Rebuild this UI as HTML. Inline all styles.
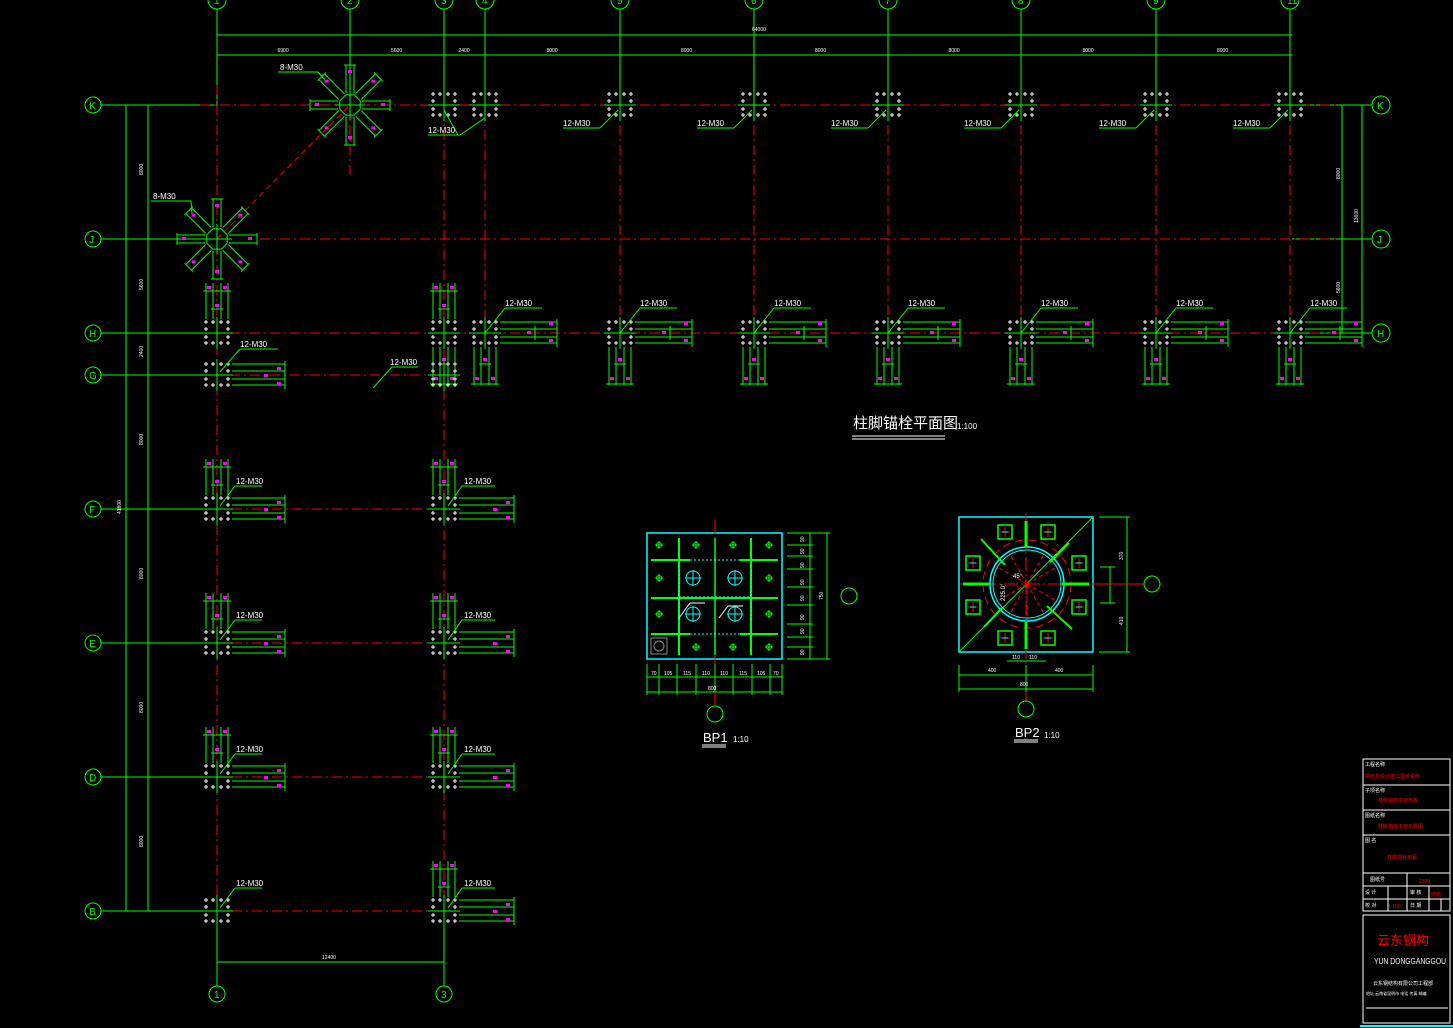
<!DOCTYPE html>
<html><head><meta charset="utf-8">
<style>
html,body{margin:0;padding:0;background:#000;}
svg{display:block}
text{font-family:"Liberation Sans","Noto Sans CJK SC",sans-serif;}
</style></head>
<body>
<svg id="s" width="1453" height="1028" viewBox="0 0 1453 1028" xmlns="http://www.w3.org/2000/svg">
<rect width="1453" height="1028" fill="#000"/>
<g id="g"></g>
<text x="853" y="428" fill="#fff" font-size="15" font-family="Noto Sans CJK SC, sans-serif">柱脚锚栓平面图</text>
<line x1="852" y1="436" x2="945" y2="436" stroke="#fff" stroke-width="1"/>
<line x1="852" y1="439" x2="945" y2="439" stroke="#fff" stroke-width="1"/>
<text x="957" y="429" fill="#fff" font-size="8">1:100</text>
<text x="703" y="742" fill="#fff" font-size="13">BP1</text>
<line x1="702" y1="745" x2="726" y2="745" stroke="#fff"/><line x1="702" y1="747" x2="726" y2="747" stroke="#fff"/>
<text x="733" y="742" fill="#fff" font-size="8">1:10</text>
<text x="1015" y="737" fill="#fff" font-size="13">BP2</text>
<line x1="1014" y1="740" x2="1038" y2="740" stroke="#fff"/><line x1="1014" y1="742" x2="1038" y2="742" stroke="#fff"/>
<text x="1044" y="738" fill="#fff" font-size="8">1:10</text>
<g stroke="#fff" fill="none" stroke-width="1">
<rect x="1363" y="759" width="87" height="152"/>
<line x1="1363" y1="785" x2="1450" y2="785"/>
<line x1="1363" y1="810" x2="1450" y2="810"/>
<line x1="1363" y1="835" x2="1450" y2="835"/>
<line x1="1363" y1="873" x2="1450" y2="873"/>
<line x1="1363" y1="886" x2="1450" y2="886"/>
<line x1="1363" y1="899" x2="1450" y2="899"/>
<line x1="1407" y1="873" x2="1407" y2="911"/>
<line x1="1388" y1="886" x2="1388" y2="911"/>
<line x1="1429" y1="886" x2="1429" y2="911"/>
<line x1="1441" y1="899" x2="1441" y2="911"/>
<rect x="1363" y="915" width="87" height="108"/>
<line x1="1366" y1="1008" x2="1448" y2="1008"/>
</g>
<g font-size="5" fill="#f00">
<text x="1365" y="778">钢结构设计施工图纸说明</text>
<text x="1378" y="802">柱脚锚栓平面布置</text>
<text x="1378" y="828">柱脚锚栓平面布置图</text>
<text x="1387" y="859">柱脚锚栓布置</text>
<text x="1419" y="883">2300</text>
<text x="1431" y="896">结施</text>
<text x="1388" y="908">1:100</text>
</g>
<g font-size="5" fill="#fff"><text x="1365" y="766">工程名称</text><text x="1365" y="792">子项名称</text><text x="1365" y="817">图纸名称</text><text x="1365" y="842">图 名</text><text x="1370" y="881">图纸号</text><text x="1365" y="894">设 计</text><text x="1410" y="894">审 核</text><text x="1365" y="907">校 对</text><text x="1410" y="907">日 期</text></g>
<text x="1377" y="945" fill="#f00" font-size="13" font-family="Noto Sans CJK SC, sans-serif">云东钢构</text>
<text x="1374" y="964" fill="#fff" font-size="8" textLength="72" lengthAdjust="spacingAndGlyphs">YUN DONGGANGGOU</text>
<text x="1373" y="985" fill="#fff" font-size="5">云东钢结构有限公司工程部</text>
<text x="1366" y="995" fill="#fff" font-size="4">地址 云南省昆明市 电话 传真 邮编</text>
<line x1="1360" y1="1026" x2="1453" y2="1026" stroke="#0ff" stroke-width="2"/>
</svg>
<script>
var G=document.getElementById('g'),h='';
var GR='#00ff00',RD='#ff0000',WH='#fff',MG='#ff00ff',CY='#00ffff';
function L(a,b,c,d,col,dash,w){h+='<line x1="'+a+'" y1="'+b+'" x2="'+c+'" y2="'+d+'" stroke="'+col+'" stroke-width="'+(w||1)+'"'+(dash?' stroke-dasharray="'+dash+'"':'')+'/>';}
function C(x,y,r,col,w){h+='<circle cx="'+x+'" cy="'+y+'" r="'+r+'" fill="none" stroke="'+col+'" stroke-width="'+(w||1)+'"/>';}
function T(x,y,t,col,fs,extra){h+='<text x="'+x+'" y="'+y+'" fill="'+col+'" font-size="'+fs+'" '+(extra||'')+'>'+t+'</text>';}
function R(x,y,w,hh,col,sw){h+='<rect x="'+x+'" y="'+y+'" width="'+w+'" height="'+hh+'" fill="none" stroke="'+col+'" stroke-width="'+(sw||1)+'"/>';}
function M(x,y){h+='<rect x="'+(x+1)+'" y="'+(y+1)+'" width="4" height="3" fill="'+MG+'"/>';}
var DD='10,4,2,4';
var cols={1:217,2:350,3:444,4:485,5:620,6:754,7:888,8:1021,9:1156,11:1290};
var rows={K:105,J:239,H:333,G:375,F:509,E:643,D:777,B:911};
for(var k in cols){var x=cols[k];C(x,0,9,GR);T(x-3,4,k,GR,10);L(x,9,x,105,GR);}
for(var r in rows){var y=rows[r];C(93,y,8,GR);T(89,y+4,r,GR,10);L(101,y,217,y,GR);}
['K','J','H'].forEach(function(r){var y=rows[r];C(1381,y,9,GR);T(1377,y+4,r,GR,10);L(1292,y,1372,y,GR);});
[1,3].forEach(function(k){var x=cols[k];C(x,994,8,GR);T(x-3,998,k,GR,10);L(x,911,x,986,GR);});
L(217,35,1292,35,GR);L(217,55,1292,55,GR);
T(752,31,'64000',WH,5);
var dl=[[217,350,'6900'],[350,444,'5600'],[444,485,'2400'],[485,620,'8000'],[620,754,'8000'],[754,888,'8000'],[888,1021,'8000'],[1021,1156,'8000'],[1156,1290,'8000']];
dl.forEach(function(d){T((d[0]+d[1])/2-6,52,d[2],WH,5);});
L(126,105,126,911,GR);L(148,105,148,911,GR);
for(var r in rows){L(122,rows[r],152,rows[r],GR);}
T(117,510,'41800',WH,5,'transform="rotate(-90 121 510)"');
[[172,'8000'],[287,'5600'],[354,'2400'],[442,'8000'],[576,'8000'],[710,'8000'],[844,'8000']].forEach(function(d){T(140,d[0],d[1],WH,5,'transform="rotate(-90 143 '+d[0]+')"');});
L(1342,105,1342,333,GR);L(1362,105,1362,333,GR);
[105,239,333].forEach(function(y){L(1338,y,1366,y,GR);});
T(1355,220,'13600',WH,5,'transform="rotate(-90 1358 220)"');
T(1337,176,'8000',WH,5,'transform="rotate(-90 1340 176)"');T(1337,290,'5600',WH,5,'transform="rotate(-90 1340 290)"');
L(217,962,444,962,GR);T(322,959,'12400',WH,5);
L(200,105,1340,105,RD,DD);L(260,239,1340,239,RD,DD);L(230,333,1340,333,RD,DD);
L(230,375,444,375,RD,DD);
['F','E','D','B'].forEach(function(r){L(232,rows[r],430,rows[r],RD,DD);});
[5,6,7,8,9,11].forEach(function(k){L(cols[k],105,cols[k],333,RD,DD);});
L(217,85,217,911,RD,DD);L(444,110,444,911,RD,DD);L(485,110,485,333,RD,DD);L(350,105,350,175,RD,DD);
L(217,239,350,105,RD,'6,4');
function plus(x,y){L(x-2,y,x+2,y,WH);L(x,y-2,x,y+2,WH);}
var off=[-11,-4,4,11],offy=[-11,-4,4,10];
function grid(cx,cy){off.forEach(function(a){offy.forEach(function(b){if(Math.abs(a)<5&&Math.abs(b)<5)return;plus(cx+a,cy+b);});});L(cx-16,cy,cx+16,cy,GR);L(cx,cy-16,cx,cy+16,GR);}
[4,5,6,7,8,9,11].forEach(function(k){grid(cols[k],105);});
grid(444,105);
L(485,118,460,135,GR);L(444,110,458,135,GR);L(428,135,460,135,GR);T(428,133,'12-M30',WH,8);
[5,6,7,8,9,11].forEach(function(k){var cx=cols[k];L(cx-2,110,cx-20,128,GR);L(cx-57,128,cx-20,128,GR);T(cx-57,126,'12-M30',WH,8);});
function hgroup(cx,cy,ext,down,lbl){grid(cx,cy);
 if(ext){offy.forEach(function(b){L(cx+15,cy+b,cx+72,cy+b,GR);});L(cx+72,cy-14,cx+72,cy+14,GR);L(cx+50,cy-7,cx+50,cy+7,GR);
  M(cx+63,cy-12);M(cx+41,cy-3);M(cx+63,cy+5);}
 if(down){off.forEach(function(a){L(cx+a,cy+14,cx+a,cy+52,GR);});L(cx-14,cy+51,cx+14,cy+51,GR);L(cx-6,cy+31,cx+6,cy+31,GR);
  M(cx-3,cy+24);M(cx-11,cy+43);M(cx+5,cy+43);}
 if(lbl){L(cx,cy,cx+20,cy-25,GR);L(cx+20,cy-25,cx+57,cy-25,GR);T(cx+20,cy-27,'12-M30',WH,8);}}
[4,5,6,7,8,9,11].forEach(function(k){hgroup(cols[k],333,true,true,true);});
hgroup(444,333,false,true,false);grid(444,375);
function upgroup(cx,cy){off.forEach(function(a){L(cx+a,cy-14,cx+a,cy-50,GR);});L(cx-14,cy-42,cx+14,cy-42,GR);L(cx-6,cy-24,cx+6,cy-24,GR);
 M(cx-11,cy-48);M(cx+5,cy-48);M(cx-3,cy-30);}
function rgt(cx,cy,len){offy.forEach(function(b){L(cx+15,cy+b,cx+len,cy+b,GR);});L(cx+len,cy-14,cx+len,cy+14,GR);
 M(cx+len-9,cy-9);M(cx+len-9,cy+6);M(cx+len-22,cy-2);}
grid(217,333);grid(217,375);upgroup(217,333);rgt(217,375,68);
L(220,372,240,349,GR);L(240,349,278,349,GR);T(240,347,'12-M30',WH,8);
L(373,388,392,367,GR);L(392,367,418,367,GR);T(390,365,'12-M30',WH,8);
upgroup(444,333);
['F','E','D','B'].forEach(function(r){var y=rows[r];grid(217,y);grid(444,y);
 if(r!='B')upgroup(217,y);upgroup(444,y);
 if(r!='B')rgt(217,y,68);rgt(444,y,70);
 L(220,y-3,235,y-23,GR);L(235,y-23,262,y-23,GR);T(236,y-25,'12-M30',WH,8);
 L(448,y-3,462,y-23,GR);L(462,y-23,495,y-23,GR);T(464,y-25,'12-M30',WH,8);});
function star(cx,cy,lab,lx,ly){
 var pts='';for(var i=0;i<8;i++){var a=Math.PI/8+i*Math.PI/4;pts+=(cx+11*Math.cos(a))+','+(cy+11*Math.sin(a))+' ';}
 h+='<polygon points="'+pts+'" fill="none" stroke="'+GR+'"/>';
 for(var i=0;i<8;i++){var a=i*Math.PI/4,c=Math.cos(a),s=Math.sin(a),px=-s,py=c;
  for(var q=-1;q<=1;q+=2){L(cx+12*c+q*4*px,cy+12*s+q*4*py,cx+40*c+q*4*px,cy+40*s+q*4*py,GR);}
  L(cx+40*c+6*px,cy+40*s+6*py,cx+40*c-6*px,cy+40*s-6*py,GR);
  M(cx+33*c-3,cy+33*s-3);}
 L(cx-15,cy,cx+15,cy,GR);L(cx,cy-15,cx,cy+15,GR);
 L(cx-25,cy-25,lx+40,ly,GR);L(lx,ly,lx+40,ly,GR);T(lx+2,ly-2,lab,WH,8);}
star(350,105,'8-M30',278,72);star(217,239,'8-M30',151,201);
// BP1
R(647,533,135,126,CY,1.5);
L(715,520,715,700,RD,'14,3,2,3');
[[651,560,690,560],[740,560,778,560],[651,598,778,598],[651,634,690,634],[740,634,778,634]].forEach(function(l){L(l[0],l[1],l[2],l[3],GR,0,2);});
[679,751].forEach(function(x){L(x,538,x,655,GR,0,2);});L(715,538,715,655,GR,0,1.5);
L(690,560,740,560,CY,2);L(690,634,740,634,CY,2);L(679,570,679,620,CY,2);L(751,570,751,620,CY,2);L(679,597,751,597,CY,2);
[[693,578],[735,578],[693,614],[735,614]].forEach(function(p){C(p[0],p[1],7,CY);L(p[0]-8,p[1],p[0]+8,p[1],CY);L(p[0],p[1]-8,p[0],p[1]+8,CY);});
[[659,545],[696,545],[733,545],[769,545],[659,578],[769,578],[659,614],[769,614],[696,647],[733,647],[769,647]].forEach(function(p){C(p[0],p[1],2.5,GR);L(p[0]-4,p[1],p[0]+4,p[1],GR);L(p[0],p[1]-4,p[0],p[1]+4,GR);});
R(651,638,16,16,'#888');C(659,646,5,'#888');
L(679,618,690,603,WH);L(690,603,705,603,WH);L(719,618,728,606,WH);L(728,606,743,606,WH);
L(787,533,830,533,GR);L(787,659,830,659,GR);L(827,533,827,659,GR);L(810,533,810,659,GR);
[545,556,569,587,605,624,637,647].forEach(function(y){L(787,y,813,y,GR);});
T(823,600,'750',WH,5,'transform="rotate(-90 823 600)"');
[540,552,566,583,599,618,632,653].forEach(function(y){T(802,y,'90',WH,5,'transform="rotate(-90 804 '+y+')"');});
L(647,677,782,677,GR);L(647,692,782,692,GR);
[647,659,677,696,715,733,752,770,782].forEach(function(x){L(x,664,x,695,GR);});
T(708,690,'800',WH,5);
['70','105','115','110','110','115','105','70'].forEach(function(t,i){var xs=[651,664,683,702,720,739,757,773];T(xs[i],675,t,WH,5);});
C(849,596,8,GR);C(715,714,8,GR);L(715,692,715,706,RD);
// BP2
R(959,517,134,135,CY,1.5);
L(959,652,1093,517,GR);L(1026,513,1026,702,RD,'14,3,2,3');L(960,584,1100,584,RD,'14,3,2,3');
C(1027,584,44,RD,1);h=h.replace(/(r="44" fill="none" stroke="#ff0000" stroke-width="1")/,'$1 stroke-dasharray="8,5"');
C(1027,584,37,CY,1.5);C(1027,584,34,CY,1);
[[0,1],[0.5,0.87],[0.87,0.5],[-0.5,0.87],[-0.87,0.5],[0.5,-0.87],[-0.87,-0.5],[0.87,-0.5],[-0.5,-0.87]].forEach(function(v){L(1027,584,1027+36*v[0],584+36*v[1],RD,'4,3');});
L(1026,521,1026,548,GR,0,3);L(1026,622,1026,649,GR,0,3);L(963,584,990,584,GR,0,3);L(1062,584,1089,584,GR,0,3);
L(981,539,1005,565,GR,0,2);L(1047,606,1072,629,GR,0,2);L(1069,543,1050,562,GR,0,2);L(984,627,1002,608,GR,0,2);
[[1005,532],[1048,532],[1079,563],[1079,607],[1048,638],[1005,638],[973,607],[973,563]].forEach(function(p){var x=p[0],y=p[1];R(x-7,y-7,14,14,GR,1.5);L(x-5,y,x+5,y,RD);L(x,y-5,x,y+5,RD);L(x-3,y,x+3,y,CY);});
L(1099,517,1130,517,GR);L(1099,652,1130,652,GR);L(1127,517,1127,652,GR);L(1110,567,1110,603,GR);L(1100,567,1115,567,GR);L(1100,603,1115,603,GR);
T(1123,560,'370',WH,5,'transform="rotate(-90 1123 560)"');T(1123,625,'410',WH,5,'transform="rotate(-90 1123 625)"');
C(1152,584,8,GR);L(1093,584,1144,584,RD);
L(959,675,1093,675,GR);L(959,689,1093,689,GR);L(1007,661,1046,661,GR);[959,1026,1093].forEach(function(x){L(x,665,x,692,GR);});
T(988,672,'400',WH,5);T(1055,672,'400',WH,5);T(1020,686,'800',WH,5);T(1012,659,'110',WH,5);T(1029,659,'110',WH,5);
C(1026,709,8,GR);
T(995,605,'225.0°',WH,6,'transform="rotate(-90 998 598)"');T(1013,578,'45°',WH,6);
G.innerHTML=h;
</script>
</body></html>
